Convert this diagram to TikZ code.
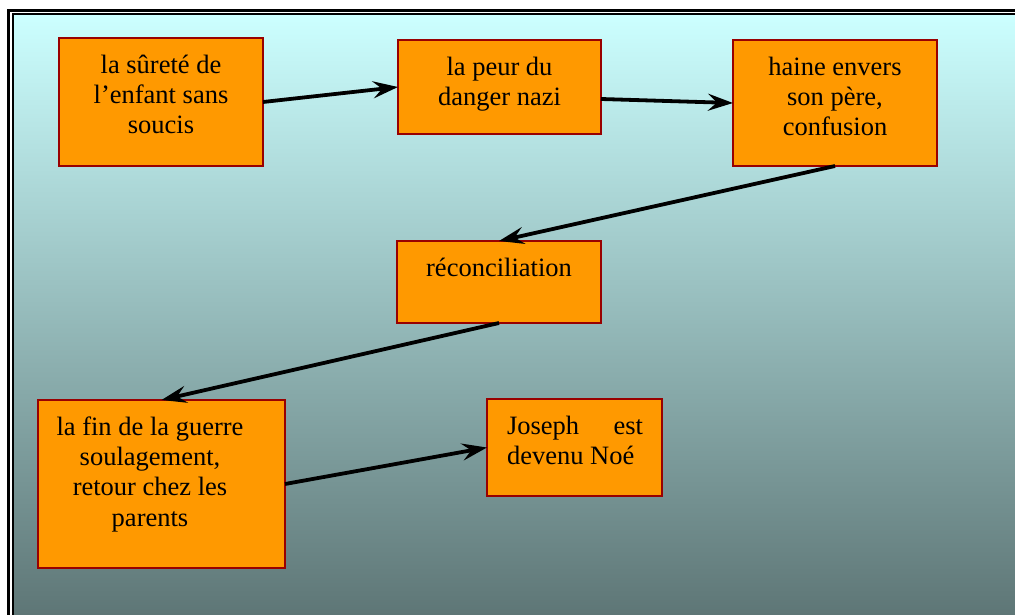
\documentclass[tikz,border=0pt]{standalone}
\usepackage{fontspec}
\setmainfont{Liberation Serif}
\usetikzlibrary{arrows.meta}

\definecolor{boxfill}{HTML}{FF9900}
\definecolor{boxline}{HTML}{990000}
\definecolor{skytop}{HTML}{CCFFFF}
\definecolor{skybottom}{HTML}{5E7676}

% #1 alignment, #2 width, #3 height, #4 left pad, #5 right pad, #6 text (top anchored)
\newcommand\cellbox[6][\centering]{%
  \parbox[t][#3][t]{#2}{\vspace*{14pt}\noindent\hspace*{#4}%
    \parbox[t]{\dimexpr#2-#4-#5\relax}{#1\strut#6\par}}}

\tikzset{
  box/.style={draw=boxline, fill=boxfill, line width=1.3pt, inner sep=0pt,
    outer sep=0pt, anchor=north west, font=\fontsize{26.5}{30.3}\selectfont},
  conn/.style={-{Stealth[length=25pt,width=17pt,inset=9pt]}, line width=3.8pt, black},
}

\begin{document}
\begin{tikzpicture}[x=1pt, y=-1pt]
  \useasboundingbox (0,0) rectangle (1015,615);
  \clip (0,0) rectangle (1015,615);

  % page background and double frame
  \fill[white] (0,0) rectangle (1015,615);
  \shade[top color=skytop, bottom color=skybottom] (13,14.5) rectangle (1015,615);
  \draw[line width=2.7pt] (8.6,630) -- (8.6,10.6) -- (1030,10.6);
  \draw[line width=2pt] (13,630) -- (13,14.3) -- (1030,14.3);

  % stages
  \node[box] (b1) at (59,38)  {\cellbox{204pt}{128pt}{0pt}{0pt}{la sûreté de\\l’enfant sans\\soucis}};
  \node[box] (b2) at (398,40) {\cellbox{203pt}{94pt}{0pt}{0pt}{la peur du\\danger nazi}};
  \node[box] (b3) at (733,40) {\cellbox{204pt}{126pt}{0pt}{0pt}{haine envers\\son père,\\confusion}};
  \node[box] (b4) at (397,241) {\cellbox{204pt}{82pt}{0pt}{0pt}{réconciliation}};
  \node[box] (b5) at (38,400) {\cellbox{247pt}{168pt}{0pt}{23pt}{la fin de la guerre\\soulagement,\\retour chez les\\parents}};
  \node[box] (b6) at (487,399) {\cellbox[\raggedright]{175pt}{97pt}{20pt}{19pt}{Joseph\hfill est\\devenu Noé}};

  % transitions
  \draw[conn] (b1.east) -- (b2.west);
  \draw[conn] ([yshift=-12pt]b2.east) -- (b3.west);
  \draw[conn] (b3.south) -- (b4.north);
  \draw[conn] (b4.south) -- (b5.north);
  \draw[conn] (b5.east) -- (b6.west);
\end{tikzpicture}
\end{document}
